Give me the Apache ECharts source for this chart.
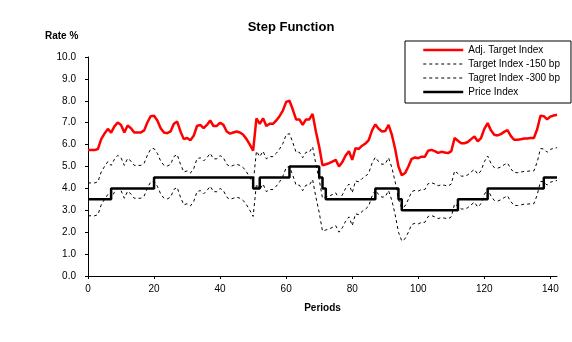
<!DOCTYPE html>
<html>
<head>
<meta charset="utf-8">
<script src="https://cdn.jsdelivr.net/npm/echarts@6/dist/echarts.min.js"></script>
<style>
html,body{margin:0;padding:0;background:#fff;}
#chart{width:572px;height:342px;}
</style>
</head>
<body>
<div id="chart"></div>
<script>
const periods = Array.from({length: 143}, (_, i) => i);

const adjTarget = [
5.75,5.75,5.75,5.8,6.25,6.5,6.72,6.55,6.83,7.01,
6.9,6.55,6.87,6.75,6.55,6.55,6.55,6.65,7.02,7.3,
7.32,7.1,6.75,6.55,6.52,6.6,6.95,7.05,6.6,6.25,
6.3,6.2,6.4,6.85,6.9,6.75,6.9,7.1,6.85,6.85,
7.0,6.9,6.6,6.5,6.55,6.6,6.55,6.45,6.25,6.0,
5.72,7.2,6.95,7.2,6.85,6.95,6.95,7.1,7.3,7.55,
7.95,8.0,7.6,7.15,7.15,6.9,7.15,7.15,7.4,6.6,
5.9,5.05,5.1,5.15,5.22,5.3,5.0,5.2,5.5,5.7,
5.3,5.84,5.8,5.95,6.05,6.2,6.65,6.92,6.72,6.6,
6.62,6.9,6.45,5.8,5.0,4.6,4.7,5.0,5.35,5.41,
5.38,5.45,5.45,5.72,5.76,5.7,5.62,5.67,5.64,5.61,
5.7,6.3,6.18,6.06,6.06,6.12,6.25,6.37,6.15,6.3,
6.72,6.98,6.65,6.45,6.42,6.48,6.58,6.66,6.4,6.22,
6.22,6.24,6.28,6.28,6.3,6.3,6.7,7.32,7.3,7.15,
7.28,7.33,7.36
];

const target150 = [
4.25,4.25,4.25,4.3,4.75,5.0,5.22,5.05,5.33,5.51,
5.4,5.05,5.37,5.25,5.05,5.05,5.05,5.15,5.52,5.8,
5.82,5.6,5.25,5.05,5.02,5.1,5.45,5.55,5.1,4.75,
4.8,4.7,4.9,5.35,5.4,5.25,5.4,5.6,5.35,5.35,
5.5,5.4,5.1,5.0,5.05,5.1,5.05,4.95,4.75,4.5,
4.22,5.7,5.45,5.7,5.35,5.45,5.45,5.6,5.8,6.05,
6.45,6.5,6.1,5.65,5.65,5.4,5.65,5.65,5.9,5.1,
4.4,3.55,3.6,3.65,3.72,3.8,3.5,3.7,4.0,4.2,
3.8,4.34,4.3,4.45,4.55,4.7,5.15,5.42,5.22,5.1,
5.12,5.4,4.95,4.3,3.5,3.1,3.2,3.5,3.85,3.91,
3.88,3.95,3.95,4.22,4.26,4.2,4.12,4.17,4.14,4.11,
4.2,4.8,4.68,4.56,4.56,4.62,4.75,4.87,4.65,4.8,
5.22,5.48,5.15,4.95,4.92,4.98,5.08,5.16,4.9,4.72,
4.72,4.74,4.78,4.78,4.8,4.8,5.2,5.82,5.8,5.65,
5.78,5.83,5.86
];

const target300 = [
2.75,2.75,2.75,2.8,3.25,3.5,3.72,3.55,3.83,4.01,
3.9,3.55,3.87,3.75,3.55,3.55,3.55,3.65,4.02,4.3,
4.32,4.1,3.75,3.55,3.52,3.6,3.95,4.05,3.6,3.25,
3.3,3.2,3.4,3.85,3.9,3.75,3.9,4.1,3.85,3.85,
4.0,3.9,3.6,3.5,3.55,3.6,3.55,3.45,3.25,3.0,
2.72,4.2,3.95,4.2,3.85,3.95,3.95,4.1,4.3,4.55,
4.95,5.0,4.6,4.15,4.15,3.9,4.15,4.15,4.4,3.6,
2.9,2.05,2.1,2.15,2.22,2.3,2.0,2.2,2.5,2.7,
2.3,2.84,2.8,2.95,3.05,3.2,3.65,3.92,3.72,3.6,
3.62,3.9,3.45,2.8,2.0,1.6,1.7,2.0,2.35,2.41,
2.38,2.45,2.45,2.72,2.76,2.7,2.62,2.67,2.64,2.61,
2.7,3.3,3.18,3.06,3.06,3.12,3.25,3.37,3.15,3.3,
3.72,3.98,3.65,3.45,3.42,3.48,3.58,3.66,3.4,3.22,
3.22,3.24,3.28,3.28,3.3,3.3,3.7,4.32,4.3,4.15,
4.28,4.33,4.36
];

const priceIndex = [
3.5,3.5,3.5,3.5,3.5,3.5,3.5,4.0,4.0,4.0,
4.0,4.0,4.0,4.0,4.0,4.0,4.0,4.0,4.0,4.0,
4.5,4.5,4.5,4.5,4.5,4.5,4.5,4.5,4.5,4.5,
4.5,4.5,4.5,4.5,4.5,4.5,4.5,4.5,4.5,4.5,
4.5,4.5,4.5,4.5,4.5,4.5,4.5,4.5,4.5,4.5,
4.0,4.0,4.5,4.5,4.5,4.5,4.5,4.5,4.5,4.5,
4.5,5.0,5.0,5.0,5.0,5.0,5.0,5.0,5.0,5.0,
4.5,4.0,3.5,3.5,3.5,3.5,3.5,3.5,3.5,3.5,
3.5,3.5,3.5,3.5,3.5,3.5,3.5,4.0,4.0,4.0,
4.0,4.0,4.0,4.0,3.5,3.0,3.0,3.0,3.0,3.0,
3.0,3.0,3.0,3.0,3.0,3.0,3.0,3.0,3.0,3.0,
3.0,3.0,3.5,3.5,3.5,3.5,3.5,3.5,3.5,3.5,
3.5,4.0,4.0,4.0,4.0,4.0,4.0,4.0,4.0,4.0,
4.0,4.0,4.0,4.0,4.0,4.0,4.0,4.0,4.5,4.5,
4.5,4.5,4.5
];

const seriesNames = ['Adj. Target Index', 'Target Index -150 bp', 'Tagret Index -300 bp', 'Price Index'];
const xTicks = { min: 0, max: 142, interval: 20 };
const yTicks = { min: 0, max: 10, interval: 1 };

const pairs = arr => periods.map((p, i) => [p, arr[i]]);
const FONT = 'Liberation Sans, Arial, sans-serif';

const chart = echarts.init(document.getElementById('chart'), null, {renderer: 'canvas'});
chart.setOption({
  animation: false,
  backgroundColor: '#ffffff',
  title: {
    text: 'Step Function',
    left: 286, textAlign: 'center', top: 16,
    textStyle: {fontFamily: FONT, fontSize: 13, fontWeight: 'bold', color: '#000'}
  },
  graphic: [{
    type: 'text', left: 45, top: 31,
    style: {text: 'Rate %', font: 'bold 10px ' + FONT, fill: '#000'}
  }],
  legend: {
    orient: 'vertical',
    left: 405, top: 41,
    padding: [4, 11, 6, 17],
    itemGap: 4,
    itemWidth: 40,
    itemHeight: 10,
    borderColor: '#000',
    borderWidth: 1,
    borderRadius: 0,
    data: [
      {name: seriesNames[0], lineStyle: {width: 2.5, color: '#ff0000'}},
      {name: seriesNames[1], lineStyle: {width: 1, color: '#000', type: [3, 3]}},
      {name: seriesNames[2], lineStyle: {width: 1, color: '#000', type: [3, 3]}},
      {name: seriesNames[3], lineStyle: {width: 2.5, color: '#000'}}
    ],
    itemStyle: {opacity: 0},
    textStyle: {fontFamily: FONT, fontSize: 10, color: '#000'}
  },
  grid: {left: 88, right: 15, top: 57, bottom: 66, containLabel: false},
  xAxis: {
    type: 'value',
    min: xTicks.min, max: xTicks.max, interval: xTicks.interval,
    name: 'Periods', nameLocation: 'middle', nameGap: 27,
    nameTextStyle: {fontFamily: FONT, fontSize: 10, fontWeight: 'bold', color: '#000'},
    axisLine: {onZero: false, lineStyle: {color: '#000', width: 1}},
    axisTick: {show: true, length: 3, lineStyle: {color: '#000'}},
    axisLabel: {
      margin: 8, fontFamily: FONT, fontSize: 10, color: '#000',
      showMaxLabel: false,
      formatter: v => (v % 20 === 0 ? String(v) : '')
    },
    splitLine: {show: false}
  },
  yAxis: {
    type: 'value',
    min: yTicks.min, max: yTicks.max, interval: yTicks.interval,
    axisLine: {show: true, lineStyle: {color: '#000', width: 1}},
    axisTick: {show: true, length: 3, lineStyle: {color: '#000'}},
    axisLabel: {
      margin: 12, fontFamily: FONT, fontSize: 10, color: '#000',
      formatter: v => v.toFixed(1)
    },
    splitLine: {show: false}
  },
  series: [
    {
      name: seriesNames[0], type: 'line', data: pairs(adjTarget),
      showSymbol: false, symbol: 'none',
      lineStyle: {color: '#ff0000', width: 2.5}, itemStyle: {color: '#ff0000'}, z: 4
    },
    {
      name: seriesNames[1], type: 'line', data: pairs(target150),
      showSymbol: false, symbol: 'none',
      lineStyle: {color: '#000', width: 1, type: [3, 3]}, itemStyle: {color: '#000'}, z: 2
    },
    {
      name: seriesNames[2], type: 'line', data: pairs(target300),
      showSymbol: false, symbol: 'none',
      lineStyle: {color: '#000', width: 1, type: [3, 3]}, itemStyle: {color: '#000'}, z: 2
    },
    {
      name: seriesNames[3], type: 'line', data: pairs(priceIndex),
      step: 'end',
      showSymbol: false, symbol: 'none',
      lineStyle: {color: '#000', width: 2.5}, itemStyle: {color: '#000'}, z: 3
    }
  ]
});
</script>
</body>
</html>
